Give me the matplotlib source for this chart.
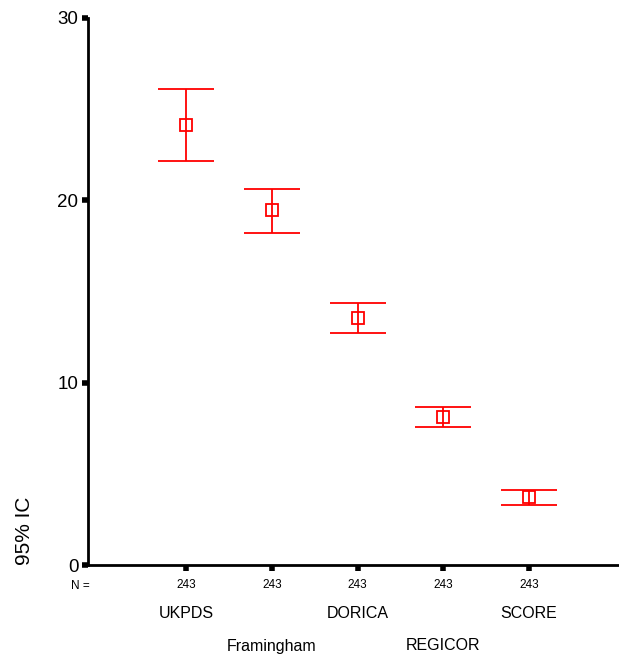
import matplotlib
matplotlib.use('Agg')
import matplotlib.pyplot as plt
from matplotlib import font_manager

# Estimates: mean and 95% confidence interval for each score
modelos = ['UKPDS', 'Framingham', 'DORICA', 'REGICOR', 'SCORE']
media = [24.13, 19.47, 13.55, 8.12, 3.73]
ic_inf = [22.16, 18.21, 12.73, 7.57, 3.29]
ic_sup = [26.11, 20.62, 14.37, 8.67, 4.11]
n_casos = [243, 243, 243, 243, 243]
yticks = [0, 10, 20, 30]

nombres = {f.name for f in font_manager.fontManager.ttflist}
fuente = 'Liberation Sans' if 'Liberation Sans' in nombres else 'DejaVu Sans'
estrecha = 'Liberation Sans Narrow' if 'Liberation Sans Narrow' in nombres else fuente
plt.rcParams['font.family'] = [fuente, 'DejaVu Sans']

fig = plt.figure(figsize=(6.19, 6.55), dpi=100)
ax = fig.add_axes([88/619, 90/655, 531/619, 547/655])

x = list(range(1, len(modelos) + 1))
err_lo = [m - lo for m, lo in zip(media, ic_inf)]
err_hi = [hi - m for m, hi in zip(media, ic_sup)]
ax.errorbar(x, media, yerr=[err_lo, err_hi], fmt='s', color='red',
            mfc='none', mec='red', ms=8, mew=1.3, elinewidth=1.3,
            capsize=20.5, capthick=1.3)

ax.set_xlim(1 - 98/85.75, 5 + 90/85.75)
ax.set_ylim(0, 30)
ax.set_yticks(yticks)
ax.set_xticks(x)
ax.set_xticklabels([str(n) for n in n_casos], fontsize=8.5, family=estrecha)
ax.tick_params(axis='y', length=4, width=4, direction='out', labelsize=13.5, pad=3)
ax.tick_params(axis='x', length=4, width=4, direction='out', pad=6)

for s in ['top', 'right']:
    ax.spines[s].set_visible(False)
ax.spines['left'].set_linewidth(2)
ax.spines['bottom'].set_linewidth(2)

ax.annotate('N =', xy=(0, 0), xycoords='axes fraction', xytext=(-8, -21),
            textcoords='offset pixels', ha='center', va='center',
            fontsize=8.5, family=estrecha)

# names alternate between two rows under the counts
for i, nombre in enumerate(modelos):
    dy = -48 if i % 2 == 0 else -81
    ax.annotate(nombre, xy=(x[i], 0), xycoords=('data', 'axes fraction'),
                xytext=(0, dy), textcoords='offset pixels', ha='center',
                va='center', fontsize=11.5, family=estrecha)

fig.text(25/619, 1 - 531/655, '95% IC', rotation=90, ha='center',
         va='center', fontsize=15)

plt.savefig('out.png', dpi=100)
